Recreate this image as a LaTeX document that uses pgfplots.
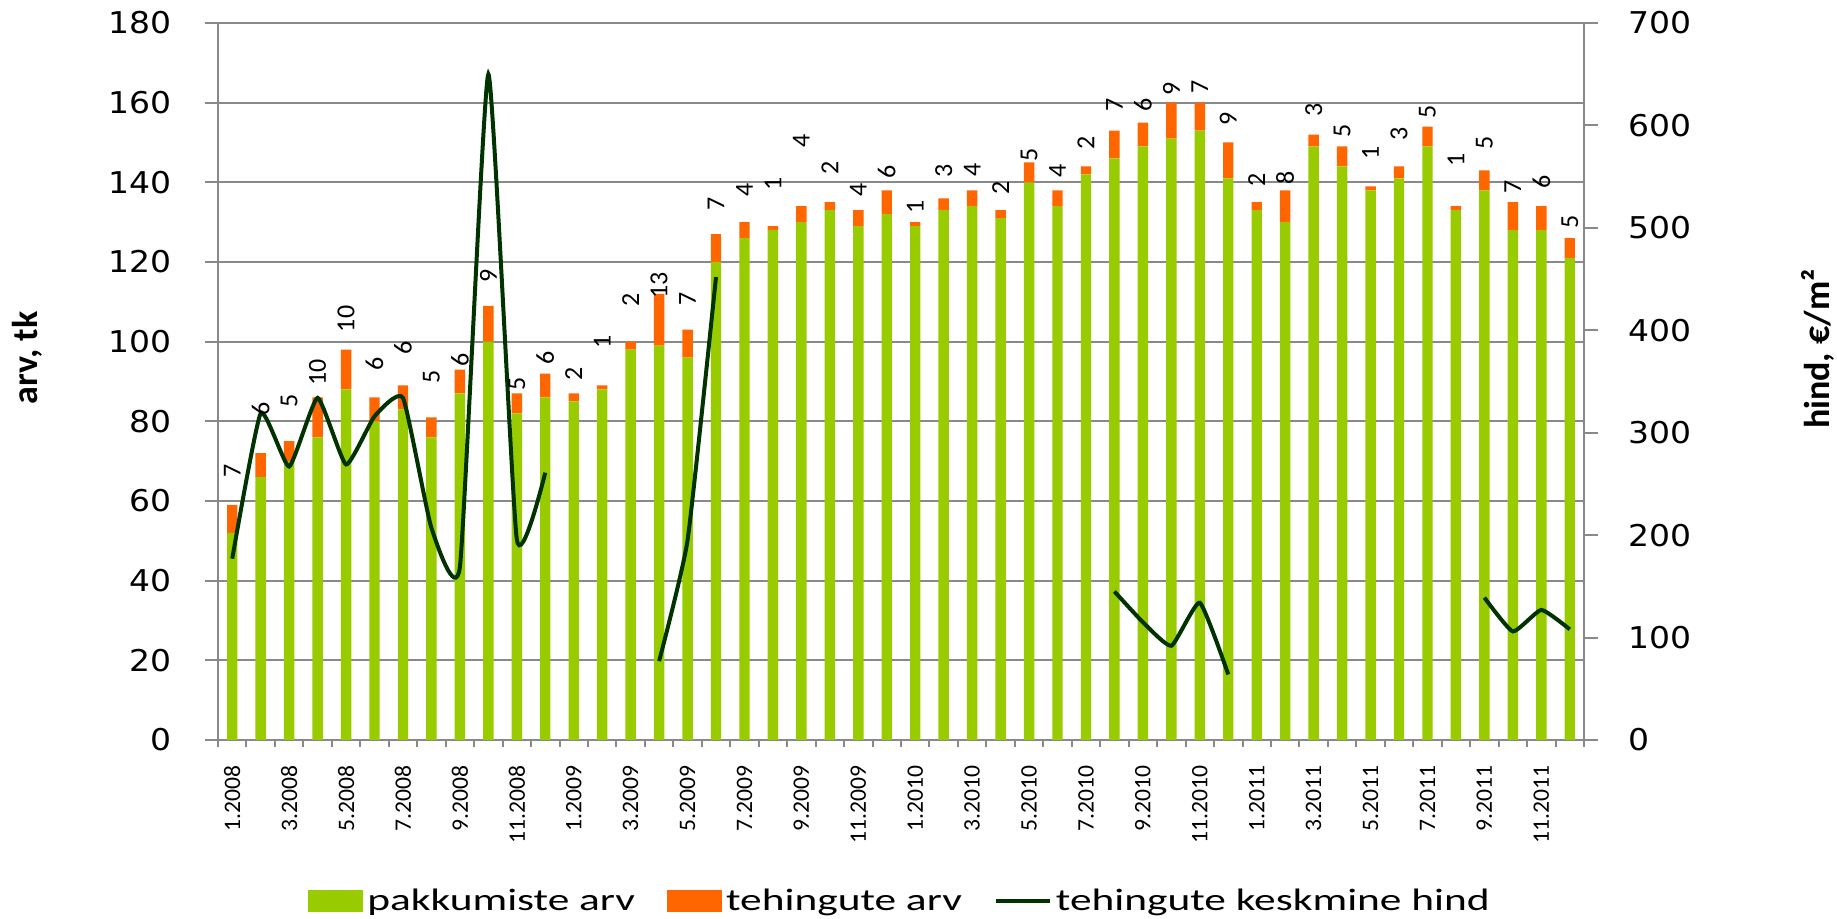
\documentclass[border=0pt]{standalone}
\usepackage{fontspec}
\setmainfont{Carlito}
\usepackage{pgfplots}
\pgfplotsset{compat=1.18}
\usepackage{pgfplotstable}
\newfontfamily\tickfont[FakeStretch=1.1]{DejaVu Sans}
\newfontfamily\legfont[FakeStretch=1.4]{Carlito}
\newfontfamily\rotfont{Carlito}
\definecolor{barGreen}{HTML}{99CC00}
\definecolor{barOrange}{HTML}{FF6600}
\definecolor{lineGreen}{HTML}{003300}
\definecolor{gridgray}{HTML}{898989}

\pgfplotstableread{
x g o lab p
1 52 7 67.6 177
2 66 6 83.0 319
3 70 5 85.1 267
4 76 10 92.3 334
5 88 10 105.7 269
6 80 6 94.5 316
7 83 6 98.4 334
8 76 5 91.1 207
9 87 6 95.5 169
10 100 9 116.6 650
11 82 5 89.4 196
12 86 6 96.0 261
13 85 2 91.9 nan
14 88 1 99.9 nan
15 98 2 110.4 nan
16 99 13 114.2 77
17 96 7 110.8 195
18 120 7 134.6 452
19 126 4 138.0 nan
20 128 1 139.6 nan
21 130 4 150.3 nan
22 133 2 143.6 nan
23 129 4 138.2 nan
24 132 6 142.5 nan
25 129 1 133.9 nan
26 133 3 142.9 nan
27 134 4 143.1 nan
28 131 2 138.5 nan
29 140 5 146.8 nan
30 134 4 142.9 nan
31 142 2 149.9 nan
32 146 7 159.4 145
33 149 6 159.4 115
34 151 9 163.5 92
35 153 7 163.9 134
36 141 9 156.0 64
37 133 2 140.7 nan
38 130 8 141.0 nan
39 149 3 158.2 nan
40 144 5 153.0 nan
41 138 1 147.3 nan
42 141 3 152.2 nan
43 149 5 157.7 nan
44 133 1 145.6 nan
45 138 5 149.8 139
46 128 7 138.8 106
47 128 6 140.0 127
48 121 5 130.0 108
}\datatable

\pgfplotsset{
  base/.style={
    scale only axis, width=683pt, height=358.5pt,
    xmin=0.5, xmax=48.5, at={(109pt,89.5pt)}, anchor=south west,
    /pgf/number format/assume math mode=true,
  },
}

\begin{document}
\begin{tikzpicture}
\useasboundingbox (0,0) rectangle (918.5pt,459.5pt);
\begin{axis}[base,
  ybar stacked, bar width=5.2pt,
  ymin=0, ymax=180, ytick={0,20,...,180},
  ymajorgrids, grid style={draw=gridgray, line width=1pt},
  axis x line*=bottom, axis y line*=left,
  axis line style={draw=gridgray, line width=1pt, -},
  tick style={draw=gridgray, line width=1pt},
  tick align=outside, major tick length=6.5pt, minor tick length=3.5pt,
  xtick={1,3,...,47},
  xticklabels={1.2008,3.2008,5.2008,7.2008,9.2008,11.2008,1.2009,3.2009,5.2009,7.2009,9.2009,11.2009,1.2010,3.2010,5.2010,7.2010,9.2010,11.2010,1.2011,3.2011,5.2011,7.2011,9.2011,11.2011},
  minor xtick={0.5,1.5,...,48.5},
  major x tick style={draw=none},
  yticklabel style={font=\tickfont\fontsize{15}{18}\selectfont, anchor=east, inner sep=0pt, xshift=-16.5pt},
  xticklabel style={font=\rotfont\fontsize{11.8}{12}\selectfont, yshift=-6pt, rotate=90, anchor=east, inner sep=0pt},
  ylabel={arv, tk},
  ylabel style={font=\bfseries\fontsize{18}{20}\selectfont, at={(axis description cs:-0.1398,0.533)}, anchor=center},
  legend style={at={(0.5,-0.2245)}, anchor=center, draw=none, fill=none,
    legend columns=3, font=\legfont\fontsize{15.5}{18}\selectfont,
    /tikz/every even column/.append style={column sep=14pt},
    nodes={inner xsep=2pt, inner ysep=0pt}},
  legend cell align=left,
]
\addplot[fill=barGreen, draw=none,
  legend image code/.code={\fill[barGreen] (0pt,-5.5pt) rectangle (27.5pt,5.5pt);}]
  table[x=x, y=g]{\datatable};
\addlegendentry{pakkumiste arv}
\addplot[fill=barOrange, draw=none,
  legend image code/.code={\fill[barOrange] (0pt,-5.5pt) rectangle (27.5pt,5.5pt);}]
  table[x=x, y=o]{\datatable};
\addlegendentry{tehingute arv}
\addlegendimage{legend image code/.code={\draw[lineGreen, line width=2pt] (0pt,0pt) -- (27pt,0pt);}}
\addlegendentry{tehingute keskmine hind}
\end{axis}

\begin{axis}[base,
  ymin=0, ymax=700, ytick={0,100,...,700},
  axis y line*=right, axis x line=none,
  axis line style={draw=gridgray, line width=1pt, -},
  tick style={draw=gridgray, line width=1pt},
  tick align=outside, major tick length=7pt,
  yticklabel style={font=\tickfont\fontsize{15}{18}\selectfont, anchor=west, inner sep=0pt, xshift=15pt},
  ylabel={hind, €/m²},
  ylabel style={font=\bfseries\fontsize{18}{20}\selectfont, at={(axis description cs:1.1713,0.545)}, anchor=center},
]
\addplot[lineGreen, line width=2pt, smooth, tension=0.28, mark=none, unbounded coords=jump]
  table[x=x, y=p]{\datatable};
\end{axis}

\begin{axis}[base, hide axis, ymin=0, ymax=180]
\addplot[draw=none, mark=none, nodes near coords, point meta=explicit symbolic,
  nodes near coords style={font=\rotfont\fontsize{13}{13}\selectfont, rotate=90, anchor=center, inner sep=0pt}]
  table[x=x, y=lab, meta=o]{\datatable};
\end{axis}
\end{tikzpicture}
\end{document}
